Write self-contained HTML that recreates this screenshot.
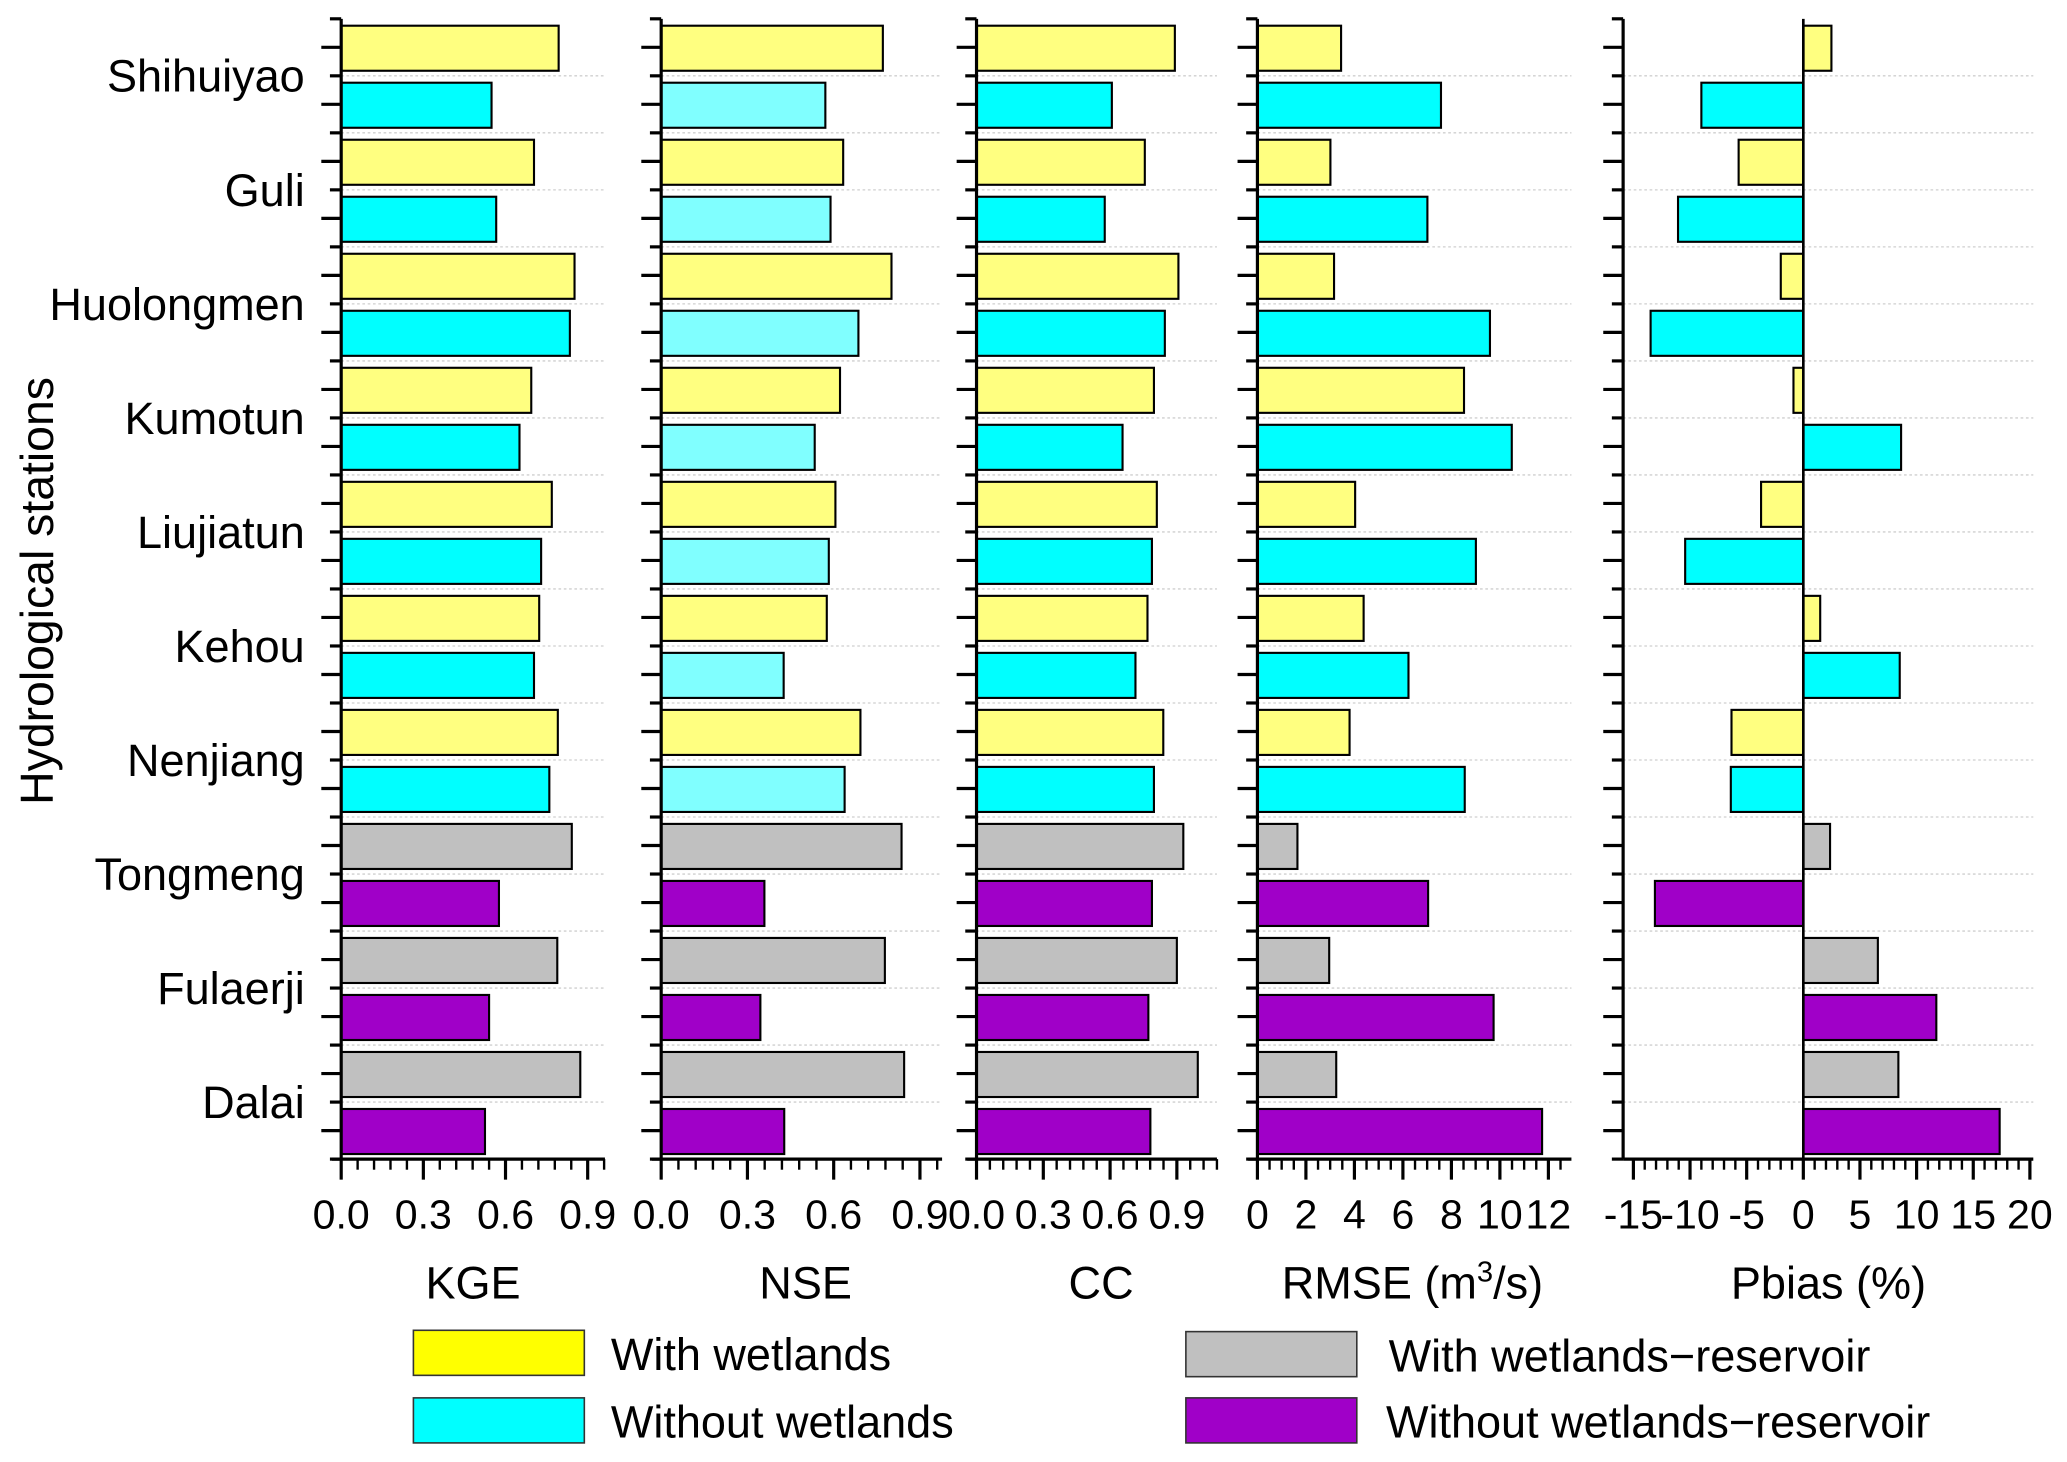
<!DOCTYPE html>
<html><head><meta charset="utf-8"><style>
html,body{margin:0;padding:0;background:#fff;}
svg{display:block;}
text{font-family:"Liberation Sans",Arial,sans-serif;fill:#000;}
</style></head><body>
<svg id="chart" width="2067" height="1462" viewBox="0 0 1560 1103.4" xmlns="http://www.w3.org/2000/svg">
<text transform="translate(40,446) rotate(-90)" text-anchor="middle" font-size="35">Hydrological stations</text>
<g id="stations"></g>
<g id="panels"></g>
<g>
 <g><rect x="312" y="1004" width="129" height="34" fill="#ffff00" stroke="#333" stroke-width="1.2"/><text x="461" y="1034" font-size="34">With wetlands</text></g>
 <g><rect x="312" y="1055" width="129" height="34" fill="#00ffff" stroke="#333" stroke-width="1.2"/><text x="461" y="1085" font-size="34">Without wetlands</text></g>
 <g><rect x="895" y="1005" width="129" height="34" fill="#c0c0c0" stroke="#333" stroke-width="1.2"/><text x="1048" y="1035" font-size="34">With wetlands−reservoir</text></g>
 <g><rect x="895" y="1055" width="129" height="34" fill="#a000c8" stroke="#333" stroke-width="1.2"/><text x="1046" y="1085" font-size="34">Without wetlands−reservoir</text></g>
</g>
</svg>
<script>
const stations = ["Shihuiyao","Guli","Huolongmen","Kumotun","Liujiatun","Kehou","Nenjiang","Tongmeng","Fulaerji","Dalai"];
const kgeWith = [0.794,0.704,0.852,0.694,0.769,0.723,0.791,0.842,0.789,0.873];
const kgeWithout = [0.549,0.566,0.835,0.651,0.730,0.704,0.760,0.576,0.540,0.525];
const nseWith = [0.771,0.633,0.801,0.622,0.606,0.576,0.693,0.836,0.778,0.845];
const nseWithout = [0.571,0.589,0.686,0.534,0.583,0.426,0.638,0.359,0.345,0.428];
const ccWith = [0.891,0.756,0.907,0.797,0.810,0.768,0.839,0.929,0.900,0.994];
const ccWithout = [0.608,0.576,0.846,0.656,0.788,0.714,0.797,0.788,0.772,0.781];
const rmseWith = [3.45,3.01,3.16,8.52,4.03,4.38,3.80,1.65,2.96,3.25];
const rmseWithout = [7.57,7.01,9.59,10.49,9.01,6.23,8.55,7.04,9.74,11.74];
const pbiasWith = [2.48,-5.71,-1.99,-0.87,-3.73,1.49,-6.34,2.36,6.58,8.39];
const pbiasWithout = [-9.0,-11.06,-13.48,8.63,-10.43,8.51,-6.4,-13.1,11.74,17.33];
const kgeTicks = ["0.0","0.3","0.6","0.9"];
const nseTicks = ["0.0","0.3","0.6","0.9"];
const ccTicks = ["0.0","0.3","0.6","0.9"];
const rmseTicks = ["0","2","4","6","8","10","12"];
const pbiasTicks = ["-15","-10","-5","0","5","10","15","20"];

const NS="http://www.w3.org/2000/svg";
const svg=document.getElementById('chart');
const panelsG=document.getElementById('panels');
const stG=document.getElementById('stations');
const TOP=14.2, SLOT=43.03, BOTTOM=TOP+20*SLOT;
function mk(tag,attrs,parent){const e=document.createElementNS(NS,tag);for(const k in attrs)e.setAttribute(k,attrs[k]);parent.appendChild(e);return e;}
function yScale(i){return TOP+i*SLOT;}

stations.forEach((s,i)=>{
  const t=mk('text',{x:230,y:yScale(2*i+1)+12,'text-anchor':'end','font-size':34},stG);
  
  
  t.textContent=s;
});

const panels=[
 {id:'kge',title:'KGE',axisX:257.5,x0:257.5,scale:206.7,min:-0.035,max:0.963,ticks:kgeTicks,minor:0.06,withD:kgeWith,withoutD:kgeWithout,cyan:'#00ffff',titleX:357},
 {id:'nse',title:'NSE',axisX:499,x0:499,scale:217,min:-0.035,max:0.977,ticks:nseTicks,minor:0.06,withD:nseWith,withoutD:nseWithout,cyan:'#80ffff',titleX:608},
 {id:'cc',title:'CC',axisX:737,x0:737,scale:168,min:-0.04,max:1.08,ticks:ccTicks,minor:0.06,withD:ccWith,withoutD:ccWithout,cyan:'#00ffff',titleX:831},
 {id:'rmse',title:'RMSE',axisX:949,x0:949,scale:18.3,min:-0.35,max:12.95,ticks:rmseTicks,minor:0.5,withD:rmseWith,withoutD:rmseWithout,cyan:'#00ffff',titleX:1066},
 {id:'pbias',title:'Pbias (%)',axisX:1225,x0:1361,scale:8.55,min:-15.9,max:20.3,ticks:pbiasTicks,minor:1,withD:pbiasWith,withoutD:pbiasWithout,cyan:'#00ffff',titleX:1380}
];

panels.forEach(p=>{
  const g=mk('g',{},panelsG);
  
  
  const xs=v=>p.x0+v*p.scale;
  const right=xs(p.max);
  for(let k=1;k<20;k++){
    const l=mk('line',{x1:p.axisX,x2:right,y1:yScale(k),y2:yScale(k),stroke:'#cfcfcf','stroke-width':1,'stroke-dasharray':'2,2'},g);
    
    
  }
  for(let i=0;i<10;i++){
    const res=i>=7;
    [[p.withD[i],res?'#c0c0c0':'#ffff80',0],[p.withoutD[i],res?'#a000c8':p.cyan,1]].forEach(([v,c,j])=>{
      const y=yScale(2*i+j)+5.2;
      const xa=xs(Math.min(0,v)), xb=xs(Math.max(0,v));
      const r=mk('rect',{x:xa,y:y,width:Math.max(0.5,xb-xa),height:34,fill:c,stroke:'#000','stroke-width':1.6},g);
      
      
    });
  }
  const ax=mk('line',{x1:p.axisX,x2:p.axisX,y1:TOP,y2:BOTTOM,stroke:'#000','stroke-width':2.4},g);
  
  
  for(let k=0;k<=40;k++){
    const y=TOP+k*SLOT/2;
    const len=(k%2===1)?15:8.5;
    mk('line',{x1:p.axisX-len,x2:p.axisX,y1:y,y2:y,stroke:'#000','stroke-width':2.4},g);
  }
  if(p.id==='pbias'){
    const z=mk('line',{x1:xs(0),x2:xs(0),y1:TOP,y2:BOTTOM,stroke:'#000','stroke-width':2},g);
    
    
  }
  const xa=mk('line',{x1:(p.id==='pbias'?p.axisX:p.axisX-7),x2:right,y1:BOTTOM,y2:BOTTOM,stroke:'#000','stroke-width':2.4},g);
  
  
  const nMin=Math.ceil((p.min)/p.minor-1e-6), nMax=Math.floor(p.max/p.minor+1e-6);
  for(let n=nMin;n<=nMax;n++){
    const v=n*p.minor; if(xs(v)<p.axisX-0.5)continue;
    mk('line',{x1:xs(v),x2:xs(v),y1:BOTTOM,y2:BOTTOM+8,stroke:'#000','stroke-width':1.8},g);
  }
  p.ticks.forEach(t=>{
    const v=parseFloat(t), x=xs(v);
    mk('line',{x1:x,x2:x,y1:BOTTOM,y2:BOTTOM+15.5,stroke:'#000','stroke-width':2.4},g);
    const tx=mk('text',{x:x,y:927,'text-anchor':'middle','font-size':31},g);
    
    
    tx.textContent=t;
  });
  const tt=mk('text',{x:p.titleX,y:980,'text-anchor':'middle','font-size':34},g);
  
  
  if(p.id==='rmse'){
    tt.textContent='RMSE (m';
    const s=mk('tspan',{'font-size':22,dy:-13},tt); s.textContent='3';
    const s2=mk('tspan',{'font-size':34,dy:13},tt); s2.textContent='/s)';
  } else tt.textContent=p.title;
});
</script>
</body></html>
